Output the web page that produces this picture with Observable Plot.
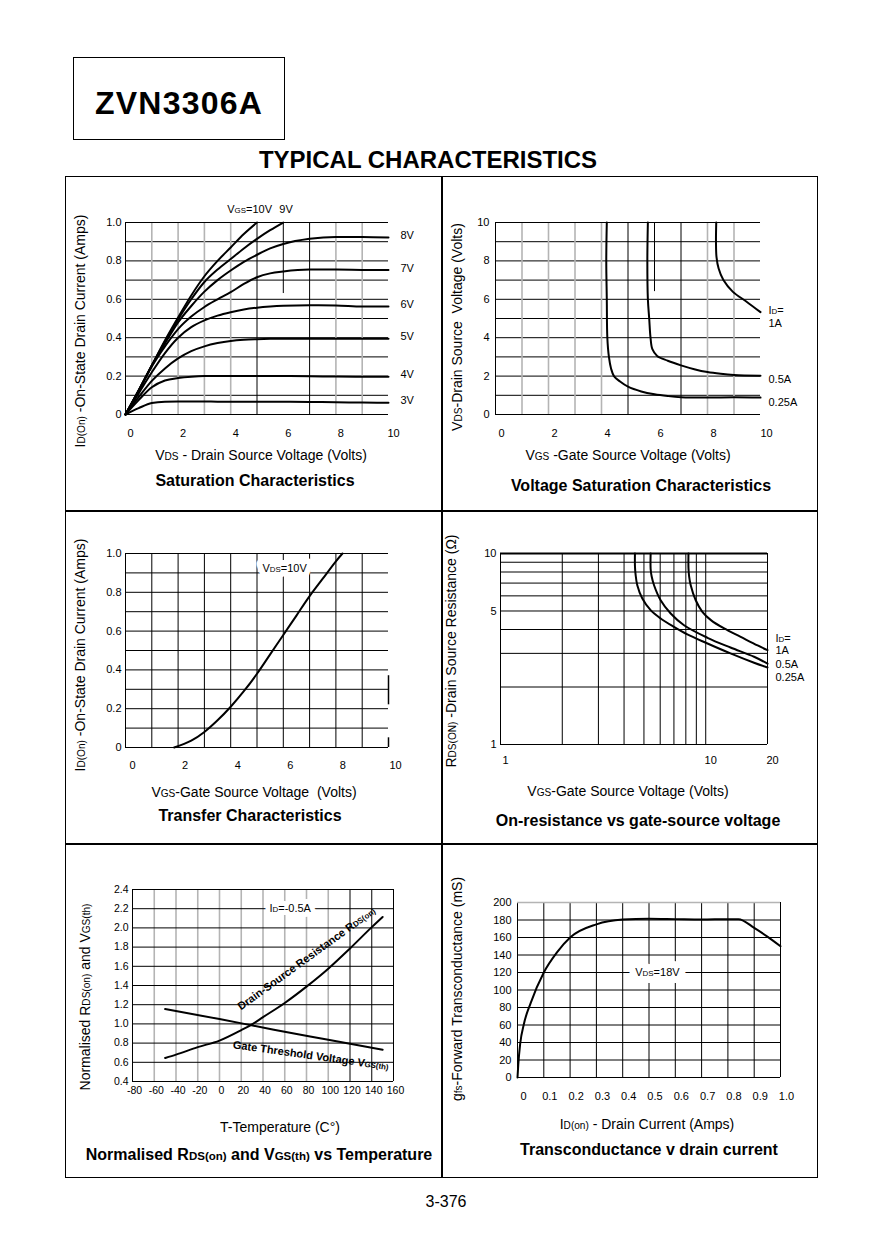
<!DOCTYPE html>
<html>
<head>
<meta charset="utf-8">
<script src="https://cdn.jsdelivr.net/npm/d3@7"></script>
<script src="https://cdn.jsdelivr.net/npm/@observablehq/plot@0.6"></script>
<style>
html,body{margin:0;padding:0;background:#fff;}
#page{position:relative;width:879px;height:1240px;overflow:hidden;background:#fff;color:#000;font-family:"Liberation Sans",Arial,Helvetica,sans-serif;}
.abs{position:absolute;white-space:nowrap;line-height:1;}
.s{font-size:72%;}
.box{position:absolute;box-sizing:border-box;}
.cell{position:absolute;}
</style>
</head>
<body>
<div id="page"></div>
<script>
// ================= DATA =================
// Chart 1: Saturation characteristics (ID vs VDS, per VGS)
const satVds = [0,0.5,1,1.5,2,2.5,3,3.5,4,4.5,5,5.5,6,7,8,9,10];
const satSeries = ["3V","4V","5V","6V","7V","8V","9V","10V"];
const satId3V  = [0,0.033,0.06,0.067,0.068,0.068,0.068,0.067,0.067,0.067,0.066,0.066,0.066,0.065,0.064,0.062,0.061];
const satId4V  = [0,0.075,0.142,0.177,0.19,0.197,0.2,0.2,0.2,0.2,0.2,0.2,0.2,0.199,0.198,0.197,0.197];
const satId5V  = [0,0.09,0.175,0.24,0.292,0.33,0.355,0.372,0.383,0.389,0.392,0.394,0.395,0.395,0.395,0.395,0.395];
const satId6V  = [0,0.11,0.22,0.32,0.4,0.455,0.49,0.515,0.533,0.547,0.556,0.562,0.566,0.569,0.568,0.562,0.562];
const satId7V  = [0,0.122,0.25,0.355,0.445,0.51,0.56,0.6,0.637,0.68,0.715,0.735,0.745,0.755,0.755,0.753,0.752];
const satId8V  = [0,0.125,0.255,0.37,0.48,0.565,0.64,0.7,0.75,0.795,0.832,0.865,0.888,0.915,0.925,0.925,0.922];
const satId9V  = [0,0.125,0.255,0.38,0.495,0.6,0.69,0.755,0.81,0.865,0.915,0.96,1.0];
const satId10V = [0,0.125,0.255,0.385,0.505,0.62,0.72,0.8,0.87,0.94,1.0];
const satXTicks = [0,2,4,6,8,10];
const satYTicks = [0,0.2,0.4,0.6,0.8,1.0];
const satGridY = [0.1,0.2,0.3,0.4,0.5,0.6,0.7,0.8,0.9];
const satGridXLight = [1,2,3,4,8,9];
const satGridXDark = [5,7];

// Chart 2: Voltage saturation characteristics (VDS vs VGS, per ID)
const vsatSeries = ["0.25A","0.5A","1A"];
const vsatVgs025 = [4.2,4.18,4.2,4.22,4.28,4.36,4.47,4.7,5.0,5.5,6.0,6.5,7.0,8.0,9.0,10.0];
const vsatVds025 = [10,8,6,4,3,2.4,2.0,1.72,1.45,1.2,1.05,0.96,0.9,0.88,0.9,0.88];
const vsatVgs05  = [5.75,5.73,5.75,5.8,5.85,5.92,6.1,6.5,7.0,7.5,8.0,8.5,9.0,10.0];
const vsatVds05  = [10,8,6,5,4,3.4,3.05,2.8,2.56,2.36,2.21,2.12,2.06,2.02];
const vsatVgs1   = [8.33,8.32,8.34,8.42,8.6,8.95,9.5,10.0];
const vsatVds1   = [10,9,8.2,7.6,7.0,6.4,5.85,5.33];
const vsatXTicks = [0,2,4,6,8,10];
const vsatYTicks = [0,2,4,6,8,10];
const vsatGridY = [1,2,3,4,5,6,7,8,9];
const vsatGridXLight = [1,2,3,4,8,9];
const vsatGridXDark = [5,7];

// Chart 3: Transfer characteristics
const xferVgs = [1.85,2.5,3,3.5,4,4.5,5,5.5,6,6.5,7,7.5,8,8.25];
const xferId  = [0,0.035,0.08,0.14,0.21,0.29,0.38,0.48,0.58,0.68,0.78,0.87,0.96,1.0];
const xferXTicks = [0,2,4,6,8,10];
const xferYTicks = [0,0.2,0.4,0.6,0.8,1.0];
const xferGridX = [1,2,3,4,5,6,7,8,9];
const xferGridY = [0.1,0.2,0.3,0.4,0.5,0.6,0.7,0.8,0.9];
const xferEdgeFrom = [0.22, 0];
const xferEdgeTo = [0.37, 0.05];

// Chart 4: On-resistance vs gate-source voltage (log-log)
const ronSeries = ["0.25A","0.5A","1A"];
const ronVgs025 = [4.52,4.52,4.55,4.64,4.91,5.39,6.03,7.0,8.14,10.2,13.2,17.2,20];
const ronRds025 = [10,8.6,7.8,6.82,5.81,5.05,4.57,4.13,3.77,3.38,3.0,2.68,2.53];
const ronVgs05  = [5.39,5.39,5.45,5.6,6.03,6.75,7.84,10.2,13.2,17.2,20];
const ronRds05  = [10,8.3,7.6,6.82,5.69,4.85,4.21,3.62,3.22,2.88,2.65];
const ronVgs1   = [8.24,8.24,8.3,8.45,8.94,9.63,10.6,12.3,14.8,17.9,20];
const ronRds1   = [10,8.4,7.6,6.82,5.69,4.95,4.48,4.05,3.66,3.3,3.12];
const ronXTicks = [1,10,20];
const ronYTicks = [1,5,10];
const ronGridX = [2,3,4,5,6,7,8,9,10];
const ronGridY = [2,3,4,5,6,7,8,9];

// Chart 5: Normalised RDS(on) and VGS(th) vs temperature
const rdsTemp = [-50,-40,-20,0,20,30,40,60,80,100,120,140,150];
const rdsNorm = [0.645,0.68,0.758,0.826,0.935,0.996,1.07,1.218,1.388,1.575,1.786,2.008,2.114];
const vthTemp = [-50,0,50,100,150];
const vthNorm = [1.155,1.05,0.94,0.835,0.73];
const tempXTicks = [-80,-60,-40,-20,0,20,40,60,80,100,120,140,160];
const tempYTicks = [0.4,0.6,0.8,1.0,1.2,1.4,1.6,1.8,2.0,2.2,2.4];
const tempGridXLight = [-60,-40,-20,0,20,40,60,80,100];
const tempGridXDark = [120,140];
const tempGridY = [0.6,0.8,1.0,1.2,1.4,1.6,1.8,2.0,2.2];

// Chart 6: Transconductance vs drain current
const gfsId  = [0,0.003,0.01,0.025,0.05,0.1,0.15,0.2,0.3,0.4,0.5,0.6,0.7,0.8,0.84,0.9,0.95,1.0];
const gfsVal = [0,15,38,62,85,120,143,160,175,180.5,181.5,181,180.5,181,181,171,161,150];
const gfsXTicks = [0,0.1,0.2,0.3,0.4,0.5,0.6,0.7,0.8,0.9,1.0];
const gfsYTicks = [0,20,40,60,80,100,120,140,160,180,200];
const gfsGridX = [0.1,0.2,0.3,0.4,0.5,0.6,0.7,0.8,0.9];
const gfsGridY = [20,40,60,80,100,120,140,160,180];

// ================= HELPERS =================
const page = document.getElementById("page");
const FONT = '"Liberation Sans", Arial, Helvetica, sans-serif';
const BLACK = "#000", GRAY = "#b4b4b4";
const zip = (xs, ys, s) => xs.map((x, i) => ({x, y: ys[i], s}));

function applySubs(svg) {
  svg.querySelectorAll("text").forEach(t => {
    const s = t.textContent;
    if (!s.includes("{") || t.querySelector("tspan")) return;
    t.textContent = "";
    for (const p of s.split(/(\{[^}]*\})/)) {
      if (!p) continue;
      const ts = document.createElementNS("http://www.w3.org/2000/svg", "tspan");
      if (p.startsWith("{")) { ts.textContent = p.slice(1, -1); ts.setAttribute("style", "font-size:0.72em"); }
      else ts.textContent = p;
      t.appendChild(ts);
    }
  });
}

// a text label that blanks out the grid behind it
function boxedText(data, opts, w) {
  return [
    Plot.text(data, {...opts, fill: "white", stroke: "white", strokeWidth: w, strokeLinejoin: "round"}),
    Plot.text(data, {...opts, fill: BLACK})
  ];
}

function chart(o) {
  const svg = Plot.plot({
    width: 376, height: 270,
    marginLeft: o.ml, marginRight: o.mr, marginTop: o.mt, marginBottom: o.mb,
    x: o.x, y: o.y,
    style: {fontFamily: FONT, fontSize: (o.fs || 11) + "px", background: "transparent", overflow: "visible", color: "#000"},
    marks: o.marks
  });
  applySubs(svg);
  const d = document.createElement("div");
  d.className = "cell";
  d.style.left = o.left + "px";
  d.style.top = o.top + "px";
  d.appendChild(svg);
  page.appendChild(d);
}

function label(html, x, y, opt = {}) {
  const el = document.createElement("div");
  el.className = "abs";
  el.innerHTML = html;
  el.style.left = x + "px";
  el.style.top = y + "px";
  el.style.fontSize = (opt.size || 14) + "px";
  if (opt.bold) el.style.fontWeight = "bold";
  if (opt.spacing) el.style.letterSpacing = opt.spacing + "px";
  el.style.transform = "translate(-50%,-50%)" + (opt.rotate ? " rotate(-90deg)" : "");
  page.appendChild(el);
}

function box(l, t, w, h, bw) {
  const el = document.createElement("div");
  el.className = "box";
  el.style.cssText += `left:${l}px;top:${t}px;width:${w}px;height:${h}px;border:${bw}px solid #000;`;
  page.appendChild(el);
}

const dec1 = d => d === 0 ? "0" : d.toFixed(1);

// ================= PAGE FRAME =================
box(73, 57, 212, 83, 1.5);
label("ZVN3306A", 179, 103, {size: 32, bold: true, spacing: 1.2});
label("TYPICAL CHARACTERISTICS", 428, 160, {size: 24, bold: true});
box(65, 176, 753, 1002, 1);
box(441, 176, 1, 1002, 0.5);
box(65, 510, 753, 1, 0.5);
box(65, 843, 753, 1, 0.5);
label("3-376", 446, 1202, {size: 16});

// ================= CHART 1 =================
const satIds = [satId3V, satId4V, satId5V, satId6V, satId7V, satId8V, satId9V, satId10V];
const satCurves = satSeries.map((s, k) => zip(satVds.slice(0, satIds[k].length), satIds[k], s));
const satRows = satCurves.flat();
const satEnds = satCurves.map(c => c[c.length - 1]);
chart({
  left: 65, top: 176, ml: 60, mr: 53, mt: 46, mb: 32,
  x: {domain: [0, 10]}, y: {domain: [0, 1]},
  marks: [
    Plot.ruleY(satGridY, {stroke: BLACK, strokeWidth: 1}),
    Plot.ruleX(satGridXLight, {stroke: GRAY, strokeWidth: 1.6}),
    Plot.ruleX(satGridXDark, {stroke: BLACK, strokeWidth: 1}),
    Plot.ruleX([6], {y1: 0.63, y2: 1, stroke: BLACK, strokeWidth: 1}),
    Plot.ruleX([0], {stroke: BLACK, strokeWidth: 1}),
    Plot.ruleY([0, 1], {stroke: BLACK, strokeWidth: 1}),
    Plot.line(satRows, {x: "x", y: "y", z: "s", stroke: BLACK, strokeWidth: 2, curve: "monotone-x"}),
    Plot.text(satEnds.filter(d => d.x === 10), {x: "x", y: "y", text: "s", dx: 12, dy: -2, textAnchor: "start"}),
    Plot.text(satEnds.filter(d => d.s === "10V"), {x: "x", y: "y", text: d => "V{GS}=" + d.s, dx: 15, dy: -13, textAnchor: "end"}),
    Plot.text(satEnds.filter(d => d.s === "9V"), {x: "x", y: "y", text: "s", dx: -4, dy: -13, textAnchor: "start"}),
    Plot.axisX(satXTicks, {tickSize: 0, tickPadding: 15, dx: 5, label: null}),
    Plot.axisY(satYTicks, {tickSize: 0, tickPadding: 4, tickFormat: dec1, label: null})
  ]
});
label('V<span class="s">DS</span> - Drain Source Voltage (Volts)', 261, 455, {size: 14});
label('I<span class="s">D(On)</span> -On-State Drain Current (Amps)', 80, 331, {size: 14, rotate: true});
label('Saturation Characteristics', 255, 481, {size: 16, bold: true});

// ================= CHART 2 =================
const vsatCurves = [zip(vsatVgs025, vsatVds025, "0.25A"), zip(vsatVgs05, vsatVds05, "0.5A"), zip(vsatVgs1, vsatVds1, "1A")];
const vsatEnds = vsatCurves.map(c => c[c.length - 1]);
const vsatDy = {"0.25A": 5, "0.5A": 4, "1A": 11};
chart({
  left: 441, top: 176, ml: 54, mr: 57, mt: 46, mb: 32,
  x: {domain: [0, 10]}, y: {domain: [0, 10]},
  marks: [
    Plot.ruleY(vsatGridY, {stroke: BLACK, strokeWidth: 1}),
    Plot.ruleX(vsatGridXLight, {stroke: GRAY, strokeWidth: 1.6}),
    Plot.ruleX(vsatGridXDark, {stroke: BLACK, strokeWidth: 1}),
    Plot.ruleX([6], {y1: 6.4, y2: 10, stroke: BLACK, strokeWidth: 1}),
    Plot.ruleX([0], {stroke: BLACK, strokeWidth: 1}),
    Plot.ruleY([0, 10], {stroke: BLACK, strokeWidth: 1}),
    ...vsatCurves.map(c => Plot.line(c, {x: "x", y: "y", stroke: BLACK, strokeWidth: 2, curve: "catmull-rom"})),
    ...vsatEnds.map(e => Plot.text([e], {x: "x", y: "y", text: "s", dx: 8, dy: vsatDy[e.s], textAnchor: "start"})),
    Plot.text(vsatEnds.filter(d => d.s === "1A"), {x: "x", y: "y", text: () => "I{D}=", dx: 8, dy: -2, textAnchor: "start"}),
    Plot.axisX(vsatXTicks, {tickSize: 0, tickPadding: 15, dx: 6, label: null}),
    Plot.axisY(vsatYTicks, {tickSize: 0, tickPadding: 6, label: null})
  ]
});
label('V<span class="s">GS</span> -Gate Source Voltage (Volts)', 628, 455, {size: 14});
label('V<span class="s">DS</span>-Drain Source&nbsp; Voltage (Volts)', 457, 327, {size: 14, rotate: true});
label('Voltage Saturation Characteristics', 641, 486, {size: 16, bold: true});

// ================= CHART 3 =================
const xferRows = zip(xferVgs, xferId, "10V");
const xferEdges = xferEdgeFrom.map((a, i) => ({a, b: xferEdgeTo[i]}));
chart({
  left: 65, top: 510, ml: 60, mr: 53, mt: 43, mb: 33,
  x: {domain: [0, 10]}, y: {domain: [0, 1]},
  marks: [
    Plot.ruleY(xferGridY, {stroke: BLACK, strokeWidth: 1}),
    Plot.ruleX(xferGridX, {stroke: BLACK, strokeWidth: 1}),
    Plot.ruleX([0], {stroke: BLACK, strokeWidth: 1}),
    Plot.ruleY([0, 1], {stroke: BLACK, strokeWidth: 1}),
    Plot.ruleX(xferEdges, {x: () => 10, y1: "a", y2: "b", stroke: BLACK, strokeWidth: 1.5}),
    ...boxedText(["V{DS}=10V"], {x: 6.05, y: 0.925, text: d => d}, 12),
    Plot.line(xferRows, {x: "x", y: "y", stroke: BLACK, strokeWidth: 2, curve: "monotone-x"}),
    Plot.axisX(xferXTicks, {tickSize: 0, tickPadding: 14, dx: 7, label: null}),
    Plot.axisY(xferYTicks, {tickSize: 0, tickPadding: 4, tickFormat: dec1, label: null})
  ]
});
label('V<span class="s">GS</span>-Gate Source Voltage&nbsp; (Volts)', 254, 792, {size: 14});
label('I<span class="s">D(On)</span> -On-State Drain Current (Amps)', 80, 655, {size: 14, rotate: true});
label('Transfer Characteristics', 250, 816, {size: 16, bold: true});

// ================= CHART 4 =================
const ronCurves = [zip(ronVgs025, ronRds025, "0.25A"), zip(ronVgs05, ronRds05, "0.5A"), zip(ronVgs1, ronRds1, "1A")];
const ronEnds = ronCurves.map(c => c[c.length - 1]);
const ronDy = {"0.25A": 10, "0.5A": 1, "1A": 0};
chart({
  left: 441, top: 510, ml: 59, mr: 50, mt: 43, mb: 36,
  x: {type: "log", domain: [1, 20]}, y: {type: "log", domain: [1, 10]},
  marks: [
    Plot.ruleX(ronGridX, {stroke: BLACK, strokeWidth: 1}),
    Plot.ruleY(ronGridY, {stroke: BLACK, strokeWidth: 1}),
    Plot.ruleX([1, 20], {stroke: BLACK, strokeWidth: 1}),
    Plot.ruleY([1], {stroke: BLACK, strokeWidth: 1}),
    Plot.ruleY([10], {stroke: BLACK, strokeWidth: 2}),
    ...ronCurves.map(c => Plot.line(c, {x: "x", y: "y", stroke: BLACK, strokeWidth: 2, curve: "catmull-rom"})),
    ...ronEnds.map(e => Plot.text([e], {x: "x", y: "y", text: "s", dx: 8, dy: ronDy[e.s], textAnchor: "start"})),
    Plot.text(ronEnds.filter(d => d.s === "1A"), {x: "x", y: "y", text: () => "I{D}=", dx: 8, dy: -12, textAnchor: "start"}),
    Plot.axisX(ronXTicks, {tickSize: 0, tickPadding: 12, dx: 5, tickFormat: d => String(d), label: null}),
    Plot.axisY(ronYTicks, {tickSize: 0, tickPadding: 4, tickFormat: d => String(d), label: null})
  ]
});
label('V<span class="s">GS</span>-Gate Source Voltage (Volts)', 628, 791, {size: 14});
label('R<span class="s">DS(ON)</span> -Drain Source Resistance (Ω)', 451, 651, {size: 14, rotate: true});
label('On-resistance vs gate-source voltage', 638, 821, {size: 16, bold: true});

// ================= CHART 5 =================
const rdsRows = zip(rdsTemp, rdsNorm, "rds");
const vthRows = zip(vthTemp, vthNorm, "vth");
chart({
  left: 65, top: 843, ml: 67, mr: 48, mt: 46, mb: 32, fs: 10.5,
  x: {domain: [-80, 160]}, y: {domain: [0.4, 2.4]},
  marks: [
    Plot.ruleX(tempGridXLight, {stroke: GRAY, strokeWidth: 1.6}),
    Plot.ruleX(tempGridXDark, {stroke: BLACK, strokeWidth: 1}),
    Plot.ruleY(tempGridY, {stroke: BLACK, strokeWidth: 1}),
    Plot.ruleX([-80, 160], {stroke: BLACK, strokeWidth: 1}),
    Plot.ruleY([0.4, 2.4], {stroke: BLACK, strokeWidth: 1}),
    ...boxedText(["I{D}=-0.5A"], {x: 65, y: 2.2, text: d => d, fontSize: 11}, 10),
    Plot.line(rdsRows, {x: "x", y: "y", stroke: BLACK, strokeWidth: 2, curve: "monotone-x"}),
    Plot.line(vthRows, {x: "x", y: "y", stroke: BLACK, strokeWidth: 2, curve: "monotone-x"}),
    Plot.text(["Drain-Source Resistance R{DS(on)}"], {x: 80, y: 1.68, text: d => d, rotate: -36, fontSize: 11, fontWeight: "bold"}),
    Plot.text(["Gate Threshold Voltage V{GS(th)}"], {x: 84, y: 0.67, text: d => d, rotate: 8, fontSize: 11, fontWeight: "bold"}),
    Plot.axisX(tempXTicks, {tickSize: 0, tickPadding: 5, dx: 2, tickFormat: d => String(d), label: null}),
    Plot.axisY(tempYTicks, {tickSize: 0, tickPadding: 4, tickFormat: d => d.toFixed(1), label: null})
  ]
});
label('T-Temperature (C°)', 280, 1127, {size: 14});
label('Normalised R<span class="s">DS(on)</span> and V<span class="s">GS(th)</span>', 85, 997, {size: 14, rotate: true});
label('Normalised R<span class="s">DS(on)</span> and V<span class="s">GS(th)</span> vs Temperature', 259, 1155, {size: 16, bold: true});

// ================= CHART 6 =================
const gfsRows = zip(gfsId, gfsVal, "18V");
chart({
  left: 441, top: 843, ml: 76, mr: 37, mt: 59, mb: 36,
  x: {domain: [0, 1]}, y: {domain: [0, 200]},
  marks: [
    Plot.ruleX(gfsGridX, {stroke: BLACK, strokeWidth: 1}),
    Plot.ruleY(gfsGridY, {stroke: BLACK, strokeWidth: 1}),
    Plot.ruleX([0, 1], {stroke: BLACK, strokeWidth: 1}),
    Plot.ruleY([0], {stroke: BLACK, strokeWidth: 1}),
    Plot.ruleY([200], {stroke: GRAY, strokeWidth: 1.5}),
    ...boxedText(["V{DS}=18V"], {x: 0.532, y: 120, text: d => d}, 14),
    Plot.line(gfsRows, {x: "x", y: "y", stroke: BLACK, strokeWidth: 2, curve: "monotone-x"}),
    Plot.axisX(gfsXTicks, {tickSize: 0, tickPadding: 15, dx: 6, tickFormat: dec1, label: null}),
    Plot.axisY(gfsYTicks, {tickSize: 0, tickPadding: 6, label: null})
  ]
});
label('I<span class="s">D(on)</span> - Drain Current (Amps)', 647, 1124, {size: 14});
label('g<span class="s">fs</span>-Forward Transconductance (mS)', 457, 989, {size: 14, rotate: true});
label('Transconductance v drain current', 649, 1150, {size: 16, bold: true});
</script>
</body>
</html>
